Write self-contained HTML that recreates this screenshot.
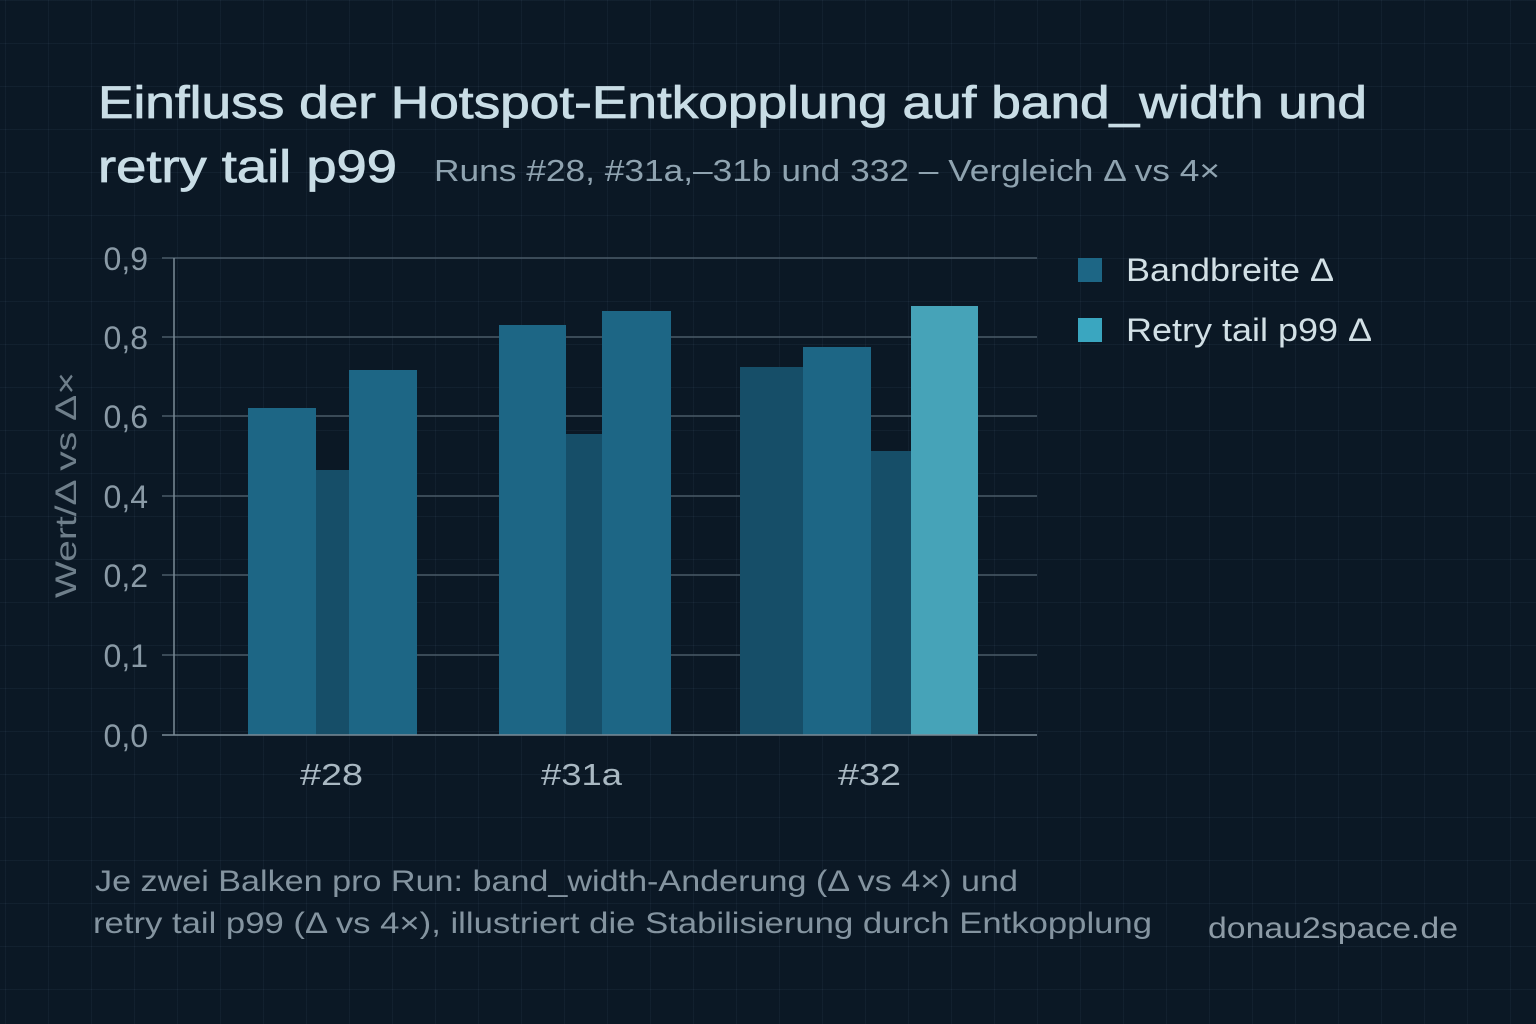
<!DOCTYPE html>
<html><head><meta charset="utf-8"><style>
html,body{margin:0;padding:0}
body{width:1536px;height:1024px;overflow:hidden;background:#0b1825;
background-image:linear-gradient(rgba(120,150,180,0.07) 1px,transparent 1px),linear-gradient(90deg,rgba(120,150,180,0.07) 1px,transparent 1px);
background-size:43px 43px;background-position:5px 0;font-family:"Liberation Sans","DejaVu Sans",sans-serif}
</style></head><body>
<svg width="1536" height="1024" style="position:absolute;left:0;top:0" font-family="Liberation Sans, DejaVu Sans, sans-serif">
<g fill="#c9dde6" stroke="#c9dde6" stroke-width="0.8">
<text x="98" y="118" font-size="45" textLength="1269" lengthAdjust="spacingAndGlyphs">Einfluss der Hotspot-Entkopplung auf band_width und</text>
<text x="98" y="182" font-size="45" textLength="299" lengthAdjust="spacingAndGlyphs">retry tail p99</text>
</g>
<text x="434" y="181" font-size="31" fill="#8fa3b0" textLength="786" lengthAdjust="spacingAndGlyphs">Runs #28, #31a,–31b und 332 – Vergleich Δ vs 4×</text>
<g stroke="#4a5a68" stroke-width="1.5">
<line x1="162" y1="258" x2="1037" y2="258"/>
<line x1="162" y1="337" x2="1037" y2="337"/>
<line x1="162" y1="416" x2="1037" y2="416"/>
<line x1="162" y1="496" x2="1037" y2="496"/>
<line x1="162" y1="575" x2="1037" y2="575"/>
<line x1="162" y1="655" x2="1037" y2="655"/>
</g>
<g font-size="32" fill="#8a9aa6" text-anchor="end">
<text x="148" y="270">0,9</text><text x="148" y="349">0,8</text><text x="148" y="428">0,6</text>
<text x="148" y="508">0,4</text><text x="148" y="587">0,2</text><text x="148" y="667">0,1</text><text x="148" y="747">0,0</text>
</g>
<text transform="translate(76,485) rotate(-90)" font-size="30" fill="#6f7f8b" text-anchor="middle" textLength="226" lengthAdjust="spacingAndGlyphs">Wert/Δ vs Δ×</text>
<rect x="248" y="408" width="68" height="327" fill="#1d6685"/>
<rect x="316" y="470" width="33" height="265" fill="#164e68"/>
<rect x="349" y="370" width="68" height="365" fill="#1d6685"/>
<rect x="499" y="325" width="67" height="410" fill="#1d6685"/>
<rect x="566" y="434" width="36" height="301" fill="#164e68"/>
<rect x="602" y="311" width="69" height="424" fill="#1d6685"/>
<rect x="740" y="367" width="63" height="368" fill="#164e68"/>
<rect x="803" y="347" width="68" height="388" fill="#1d6685"/>
<rect x="871" y="451" width="40" height="284" fill="#164e68"/>
<rect x="911" y="306" width="67" height="429" fill="#46a3b8"/>
<line x1="174" y1="258" x2="174" y2="735" stroke="#7a8a96" stroke-width="1.5"/>
<line x1="162" y1="735" x2="1037" y2="735" stroke="#7a8a96" stroke-width="1.5"/>
<g font-size="31" fill="#a9b8c2">
<text x="300" y="785" textLength="63" lengthAdjust="spacingAndGlyphs">#28</text>
<text x="541" y="785" textLength="81" lengthAdjust="spacingAndGlyphs">#31a</text>
<text x="838" y="785" textLength="63" lengthAdjust="spacingAndGlyphs">#32</text>
</g>
<rect x="1078" y="258" width="24" height="24" fill="#1d6685"/>
<rect x="1078" y="318" width="24" height="24" fill="#3aa6c0"/>
<text x="1126" y="281" font-size="32" fill="#d2e0e6" textLength="208" lengthAdjust="spacingAndGlyphs">Bandbreite Δ</text>
<text x="1126" y="341" font-size="32" fill="#d2e0e6" textLength="246" lengthAdjust="spacingAndGlyphs">Retry tail p99 Δ</text>
<text x="95" y="891" font-size="30" fill="#8494a0" textLength="923" lengthAdjust="spacingAndGlyphs">Je zwei Balken pro Run: band_width-Anderung (Δ vs 4×) und</text>
<text x="93" y="933" font-size="30" fill="#8494a0" textLength="1059" lengthAdjust="spacingAndGlyphs">retry tail p99 (Δ vs 4×), illustriert die Stabilisierung durch Entkopplung</text>
<text x="1208" y="938" font-size="30" fill="#8d9ba6" textLength="250" lengthAdjust="spacingAndGlyphs">donau2space.de</text>
</svg>
</body></html>
